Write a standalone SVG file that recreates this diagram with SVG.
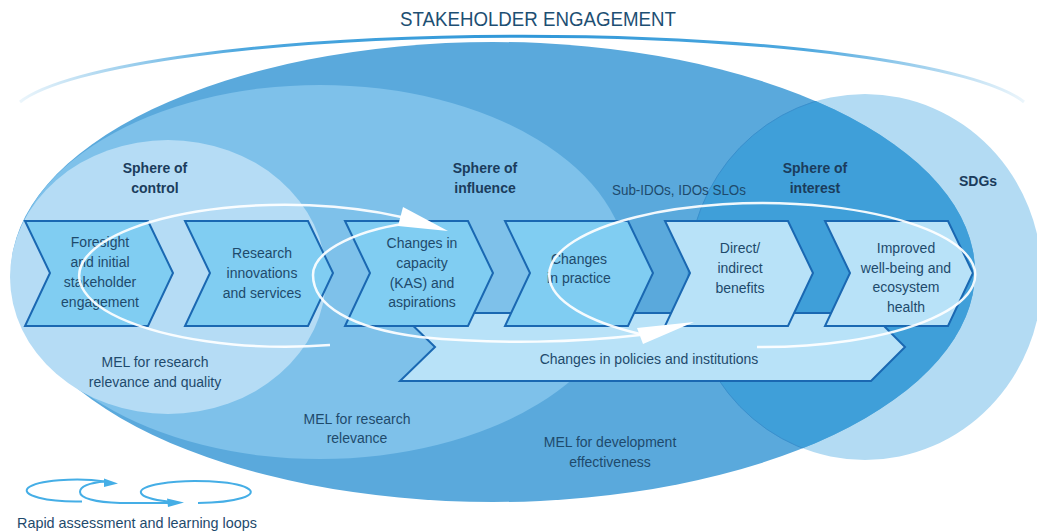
<svg xmlns="http://www.w3.org/2000/svg" width="1037" height="531" viewBox="0 0 1037 531">
<style>
text{font-family:"Liberation Sans",Arial,sans-serif;fill:#1e4a6c;text-anchor:middle}
.t{font-size:14px}
.b{font-size:14px;font-weight:bold;fill:#1b3c5c}
.chev{stroke:#1a68b2;stroke-width:2;stroke-linejoin:miter}
.c1{fill:#80cdf2}
.c2{fill:#b8e2f8}
.loop{fill:none;stroke:#ffffff;stroke-width:2.5;stroke-opacity:0.92}
.head{fill:#ffffff}
.leg{fill:none;stroke:#45aee6;stroke-width:2}
.leghead{fill:#45aee6}
</style>
<defs>
<linearGradient id="arcGrad" gradientUnits="userSpaceOnUse" x1="20" y1="0" x2="1024" y2="0">
<stop offset="0" stop-color="#3a9edb" stop-opacity="0.1"/>
<stop offset="0.22" stop-color="#3a9edb" stop-opacity="0.9"/>
<stop offset="0.5" stop-color="#2f97d8" stop-opacity="1"/>
<stop offset="0.78" stop-color="#3a9edb" stop-opacity="0.9"/>
<stop offset="1" stop-color="#3a9edb" stop-opacity="0.1"/>
</linearGradient>
<clipPath id="bigClip"><ellipse cx="493" cy="272" rx="482" ry="230"/></clipPath>
</defs>

<g id="title">
<text x="538" y="26" style="font-size:20px;fill:#1d4f73" textLength="276" lengthAdjust="spacingAndGlyphs">STAKEHOLDER ENGAGEMENT</text>
<path d="M20,102 A512,82 0 0 1 1024,102" fill="none" stroke="url(#arcGrad)" stroke-width="3"/>
</g>

<g id="spheres">
<ellipse id="sdg" cx="865" cy="277" rx="177" ry="183" fill="#b3dbf3"/>
<ellipse id="big" cx="493" cy="272" rx="482" ry="230" fill="#5aa9dc"/>
<ellipse cx="865" cy="277" rx="177" ry="183" fill="#3f9fd9" stroke="#3a8fcc" stroke-width="1" clip-path="url(#bigClip)"/>
<ellipse id="influence" cx="320" cy="272" rx="308" ry="187" fill="#7ec1ea"/>
<ellipse id="control" cx="168" cy="277" rx="158" ry="137" fill="#b5dcf5"/>
</g>

<g id="sphere-labels">
<text class="b" x="155" y="173">Sphere of</text>
<text class="b" x="155" y="193">control</text>
<text class="b" x="485" y="173">Sphere of</text>
<text class="b" x="485" y="193">influence</text>
<text class="t" x="679" y="195" textLength="134" lengthAdjust="spacingAndGlyphs">Sub-IDOs, IDOs SLOs</text>
<text class="b" x="815" y="173">Sphere of</text>
<text class="b" x="815" y="193">interest</text>
<text class="b" x="978" y="186">SDGs</text>
</g>

<g id="policies">
<polygon class="chev c2" points="400,313 871,313 905,347 871,381 400,381 435,347"/>
<text class="t" x="649" y="364">Changes in policies and institutions</text>
</g>

<g id="chevron1">
<polygon class="chev c1" points="25,221 148,221 173,273 148,326 25,326 50,273"/>
<text class="t" x="100" y="247">Foresight</text>
<text class="t" x="100" y="267">and initial</text>
<text class="t" x="100" y="287">stakeholder</text>
<text class="t" x="100" y="307">engagement</text>
</g>
<g id="chevron2">
<polygon class="chev c1" points="185,221 308,221 333,273 308,326 185,326 210,273"/>
<text class="t" x="262" y="258">Research</text>
<text class="t" x="262" y="278">innovations</text>
<text class="t" x="262" y="298">and services</text>
</g>
<g id="chevron3">
<polygon class="chev c1" points="345,221 468,221 493,273 468,326 345,326 370,273"/>
<text class="t" x="422" y="248">Changes in</text>
<text class="t" x="422" y="268">capacity</text>
<text class="t" x="422" y="288">(KAS) and</text>
<text class="t" x="422" y="307">aspirations</text>
</g>
<g id="chevron4">
<polygon class="chev c1" points="505,221 628,221 653,273 628,326 505,326 530,273"/>
<text class="t" x="579" y="264">Changes</text>
<text class="t" x="579" y="283">in practice</text>
</g>
<g id="chevron5">
<polygon class="chev c2" points="665,221 788,221 813,273 788,326 665,326 690,273"/>
<text class="t" x="740" y="253">Direct/</text>
<text class="t" x="740" y="273">indirect</text>
<text class="t" x="740" y="293">benefits</text>
</g>
<g id="chevron6">
<polygon class="chev c2" points="825,221 948,221 973,273 948,326 825,326 850,273"/>
<text class="t" x="906" y="253">Improved</text>
<text class="t" x="906" y="273">well-being  and</text>
<text class="t" x="906" y="292">ecosystem</text>
<text class="t" x="906" y="312">health</text>
</g>

<g id="connectors">
<path class="loop" d="M330,345 A206,71 0 1 1 420,222"/>
<polygon class="head" points="403,207 398,226 448,231"/>
<path class="loop" d="M418,222 C360,228 313,250 313,275 C313,305 350,328 420,337 C500,345 580,342 640,335"/>
<polygon class="head" points="637,328 643,344 694,322"/>
<path class="loop" d="M640,334 A213,72 0 1 1 757,347"/>
</g>

<g id="mel-labels">
<text class="t" x="155" y="367">MEL for research</text>
<text class="t" x="155" y="387">relevance and quality</text>
<text class="t" x="357" y="424">MEL for research</text>
<text class="t" x="357" y="443">relevance</text>
<text class="t" x="610" y="447">MEL for development</text>
<text class="t" x="610" y="467">effectiveness</text>
</g>

<g id="legend">
<path class="leg" d="M82,501.5 A50,11 0 1 1 105,481.5"/>
<polygon class="leghead" points="104,478.5 104,487 118,483.5"/>
<path class="leg" d="M105,481.5 C88,483 80,487 80,492 C80,498 95,502.5 120,503 L168,503"/>
<polygon class="leghead" points="167,498.5 168,507 184,502.5"/>
<path class="leg" d="M168,501.5 A55,11 0 1 1 198,503"/>
<text x="137" y="528" style="font-size:15px;fill:#1e4a6c" textLength="240" lengthAdjust="spacingAndGlyphs">Rapid assessment and learning loops</text>
</g>
</svg>
